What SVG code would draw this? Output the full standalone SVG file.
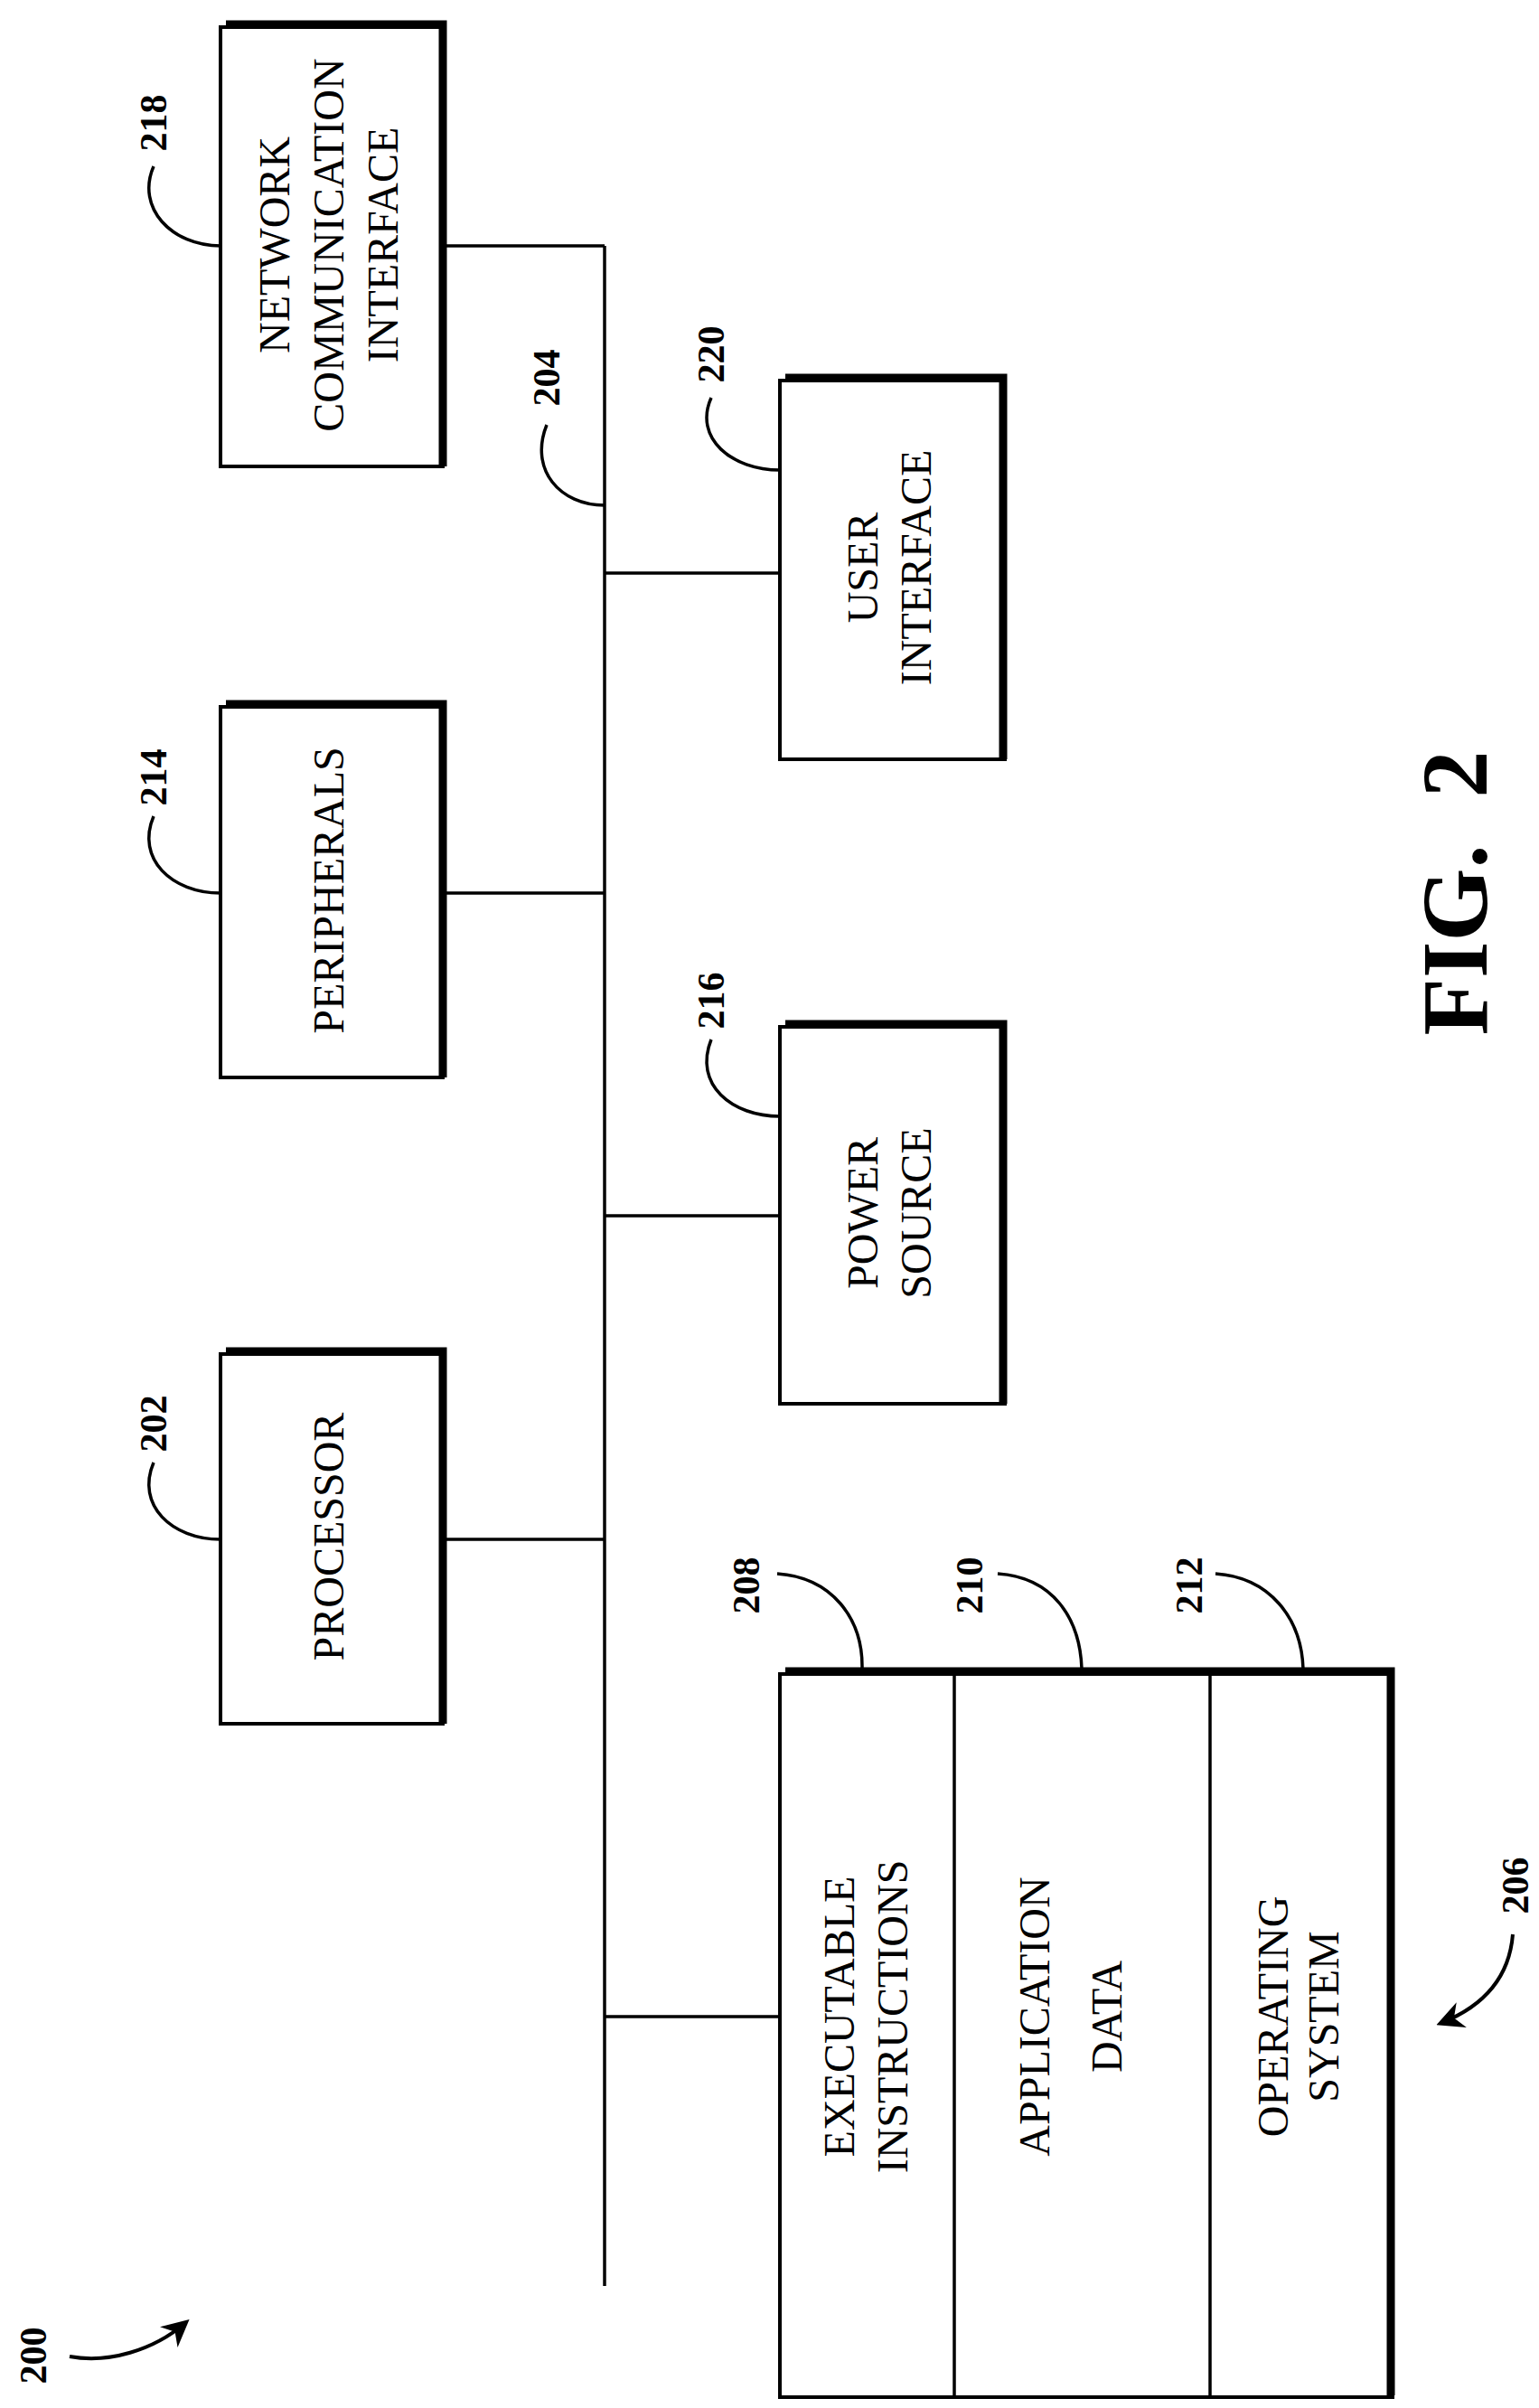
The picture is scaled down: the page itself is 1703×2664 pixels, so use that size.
<svg xmlns="http://www.w3.org/2000/svg" width="1703" height="2664" viewBox="0 0 1703 2664">
<defs>
<style>
.box{fill:#fff;stroke:#000;stroke-width:4}
.sh{fill:none;stroke:#000;stroke-width:9}
.ln{fill:none;stroke:#000;stroke-width:3.5}
.t{font-family:"Liberation Serif",serif;font-size:48px;text-anchor:middle;dominant-baseline:central}
.n{font-family:"Liberation Serif",serif;font-size:42px;font-weight:bold;text-anchor:middle;dominant-baseline:central}
</style>
<marker id="ah" viewBox="0 0 10 10" refX="8" refY="5" markerWidth="30" markerHeight="30" orient="auto" markerUnits="userSpaceOnUse">
<path d="M0,0 L10,5 L0,10 L3,5 z" fill="#000"/>
</marker>
</defs>
<rect width="1703" height="2664" fill="#fff"/>
<g id="connectors">
<path class="ln" d="M669,272 V2529"/>
<path class="ln" d="M490,272 H669 M669,634 H863 M490,988 H669 M669,1345 H863 M490,1703 H669 M669,2231 H863"/>
<path class="ln" d="M170,184 C150,230 190,272 244,272"/>
<path class="ln" d="M170,903 C150,950 190,988 244,988"/>
<path class="ln" d="M170,1618 C150,1665 190,1703 244,1703"/>
<path class="ln" d="M605,470 C585,520 620,559 669,559"/>
<path class="ln" d="M787,440 C767,485 810,520 863,520"/>
<path class="ln" d="M787,1150 C767,1200 810,1235 863,1235"/>
<path class="ln" d="M860,1741 C920,1745 955,1790 954,1846"/>
<path class="ln" d="M1104,1741 C1165,1745 1195,1790 1197,1846"/>
<path class="ln" d="M1345,1741 C1405,1745 1440,1790 1442,1846"/>
<path class="ln" d="M1674,2140 C1670,2190 1640,2220 1595,2238" style="stroke-width:4" marker-end="url(#ah)"/>
<path class="ln" d="M77,2607 C120,2615 170,2600 205,2570" style="stroke-width:4" marker-end="url(#ah)"/>
</g>
<g id="n218">
<rect class="box" x="244" y="30" width="246" height="486"/>
<path class="sh" d="M250,27 H490 V516"/>
<g transform="translate(363,271) rotate(-90)">
<text class="t" x="0" y="-60">NETWORK</text>
<text class="t" x="0" y="0">COMMUNICATION</text>
<text class="t" x="0" y="60">INTERFACE</text>
</g>
<text class="n" transform="translate(170,136) rotate(-90)">218</text>
</g>
<g id="n214">
<rect class="box" x="244" y="782" width="246" height="410"/>
<path class="sh" d="M250,779 H490 V1192"/>
<text class="t" transform="translate(363,985) rotate(-90)">PERIPHERALS</text>
<text class="n" transform="translate(170,860) rotate(-90)">214</text>
</g>
<g id="n202">
<rect class="box" x="244" y="1498" width="246" height="409"/>
<path class="sh" d="M250,1495 H490 V1907"/>
<text class="t" transform="translate(363,1700) rotate(-90)">PROCESSOR</text>
<text class="n" transform="translate(170,1575) rotate(-90)">202</text>
</g>
<g id="n204">
<text class="n" transform="translate(605,418) rotate(-90)">204</text>
</g>
<g id="n220">
<rect class="box" x="863" y="421" width="249" height="419"/>
<path class="sh" d="M869,418 H1110 V840"/>
<g transform="translate(983,628) rotate(-90)">
<text class="t" x="0" y="-29">USER</text>
<text class="t" x="0" y="30">INTERFACE</text>
</g>
<text class="n" transform="translate(787,392) rotate(-90)">220</text>
</g>
<g id="n216">
<rect class="box" x="863" y="1136" width="249" height="417"/>
<path class="sh" d="M869,1133 H1110 V1553"/>
<g transform="translate(983,1342) rotate(-90)">
<text class="t" x="0" y="-29">POWER</text>
<text class="t" x="0" y="30">SOURCE</text>
</g>
<text class="n" transform="translate(787,1107) rotate(-90)">216</text>
</g>
<g id="n206">
<rect class="box" x="863" y="1852" width="678" height="800"/>
<path class="sh" d="M869,1849 H1539 V2650"/>
<path class="ln" d="M1056,1852 V2652 M1339,1852 V2652"/>
<text class="n" transform="translate(1677,2086) rotate(-90)">206</text>
</g>
<g id="n208">
<g transform="translate(957,2231) rotate(-90)">
<text class="t" x="0" y="-29">EXECUTABLE</text>
<text class="t" x="0" y="30">INSTRUCTIONS</text>
</g>
<text class="n" transform="translate(826,1754) rotate(-90)">208</text>
</g>
<g id="n210">
<g transform="translate(1184,2231) rotate(-90)">
<text class="t" x="0" y="-40">APPLICATION</text>
<text class="t" x="0" y="40">DATA</text>
</g>
<text class="n" transform="translate(1073,1754) rotate(-90)">210</text>
</g>
<g id="n212">
<g transform="translate(1436,2231) rotate(-90)">
<text class="t" x="0" y="-28">OPERATING</text>
<text class="t" x="0" y="28">SYSTEM</text>
</g>
<text class="n" transform="translate(1316,1754) rotate(-90)">212</text>
</g>
<g id="n200">
<text class="n" transform="translate(37,2606) rotate(-90)">200</text>
</g>
<text transform="translate(1609,988) rotate(-90)" style="font-family:'Liberation Serif',serif;font-size:104px;font-weight:bold;text-anchor:middle;dominant-baseline:central" xml:space="preserve">FIG.  2</text>
</svg>
